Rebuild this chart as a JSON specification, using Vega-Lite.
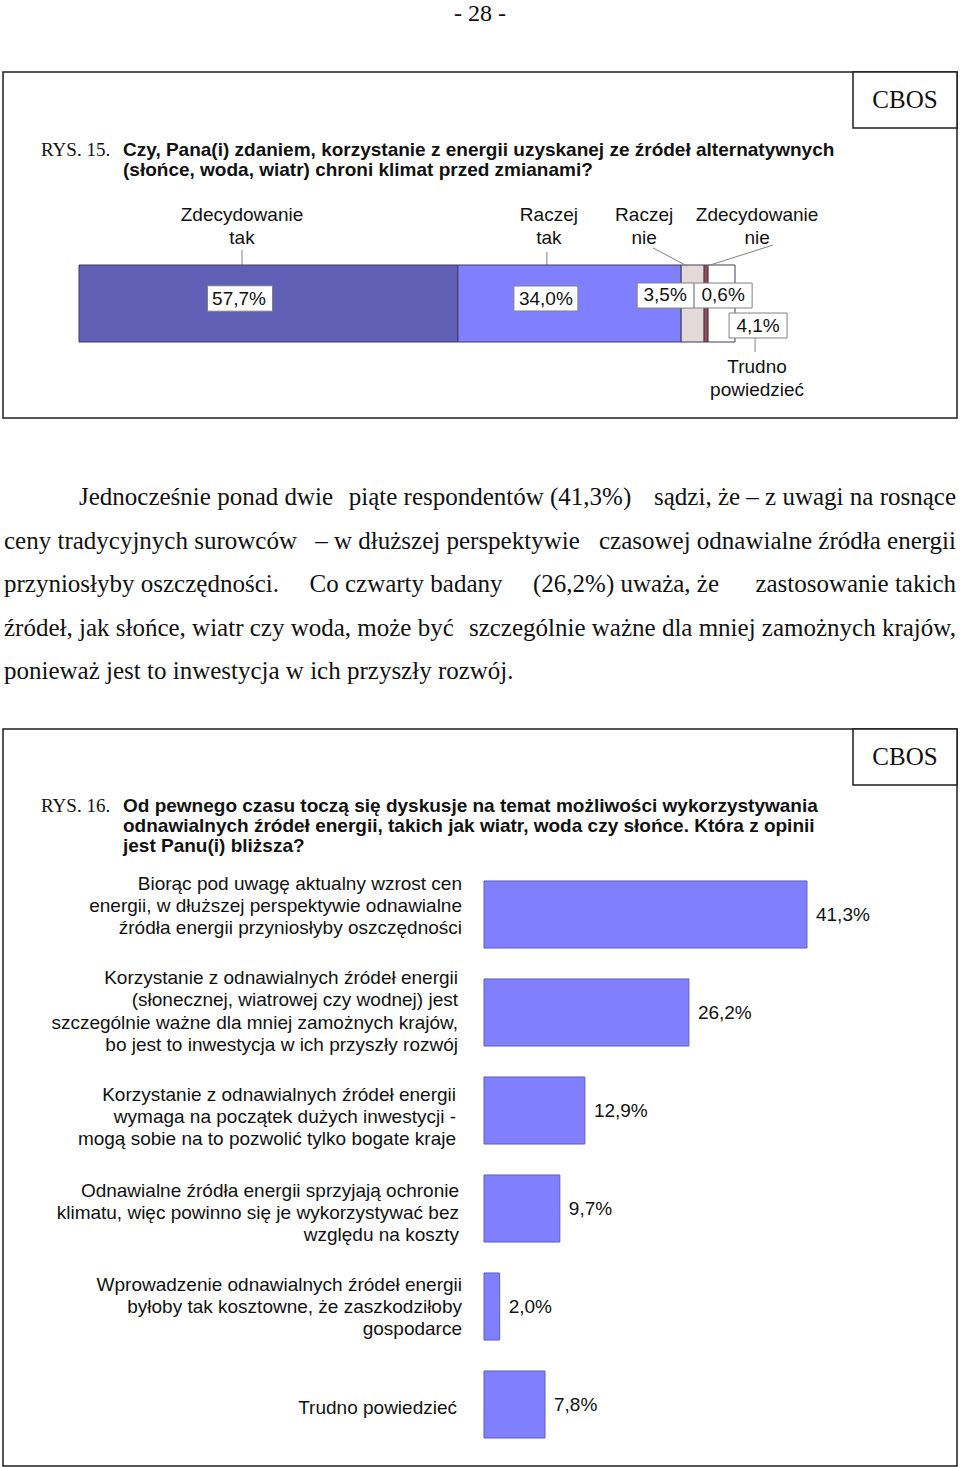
{
  "$schema": "https://vega.github.io/schema/vega-lite/v6.json",
  "width": 960,
  "height": 1468,
  "padding": 0,
  "autosize": {"type": "none"},
  "background": "#ffffff",
  "config": {
    "view": {"stroke": null},
    "axis": {"disable": true},
    "legend": {"disable": true},
    "text": {"font": "Liberation Sans", "fontSize": 19, "baseline": "middle", "color": "#111111"}
  },
  "resolve": {"scale": {"x": "independent", "y": "independent", "color": "independent"}},
  "layer": [
    {
      "data": {"values": [{"t": "- 28 -"}]},
      "mark": {"type": "text", "font": "Liberation Serif", "fontSize": 24},
      "encoding": {
        "text": {"field": "t"},
        "y": {"field": "t", "type": "nominal", "scale": {"type": "point", "range": [14, 14]}}
      }
    },
    {
      "data": {"values": [{"fig": "RYS. 15."}]},
      "mark": {"type": "rect", "fillOpacity": 0, "stroke": "#1e1e1e", "strokeWidth": 1.5},
      "encoding": {
        "x": {"field": "fig", "type": "nominal", "scale": {"type": "band", "range": [3, 957], "paddingInner": 0, "paddingOuter": 0}},
        "y": {"field": "fig", "type": "nominal", "scale": {"type": "band", "range": [72, 418], "paddingInner": 0, "paddingOuter": 0}}
      }
    },
    {
      "data": {"values": [{"src": "CBOS"}]},
      "encoding": {
        "x": {"field": "src", "type": "nominal", "scale": {"type": "band", "range": [853, 957], "paddingInner": 0, "paddingOuter": 0}},
        "y": {"field": "src", "type": "nominal", "scale": {"type": "band", "range": [72, 128], "paddingInner": 0, "paddingOuter": 0}}
      },
      "layer": [
        {"mark": {"type": "rect", "fill": "#ffffff", "stroke": "#1e1e1e", "strokeWidth": 1.5}},
        {"mark": {"type": "text", "font": "Liberation Serif", "fontSize": 25}, "encoding": {"text": {"field": "src"}}}
      ]
    },
    {
      "data": {"values": [{"line": 1, "text": "RYS. 15."}]},
      "mark": {"type": "text", "font": "Liberation Serif", "fontSize": 19, "align": "left"},
      "encoding": {
        "text": {"field": "text"},
        "x": {"field": "line", "type": "ordinal", "scale": {"type": "point", "range": [41, 41], "padding": 0}},
        "y": {"field": "line", "type": "ordinal", "scale": {"type": "point", "range": [150, 150], "padding": 0}}
      }
    },
    {
      "data": {"values": [
        {"line": 1, "text": "Czy, Pana(i) zdaniem, korzystanie z energii uzyskanej ze źródeł alternatywnych"},
        {"line": 2, "text": "(słońce, woda, wiatr) chroni klimat przed zmianami?"}
      ]},
      "mark": {"type": "text", "fontWeight": "bold", "fontSize": 19, "align": "left"},
      "encoding": {
        "text": {"field": "text"},
        "x": {"field": "line", "type": "ordinal", "scale": {"type": "point", "range": [123, 123], "padding": 0}},
        "y": {"field": "line", "type": "ordinal", "scale": {"type": "point", "range": [150, 170], "padding": 0}}
      }
    },
    {
      "data": {"values": [
        {"q": "RYS. 15.", "n": 1, "cat": "Zdecydowanie tak", "v": 57.7, "label": "57,7%"},
        {"q": "RYS. 15.", "n": 2, "cat": "Raczej tak", "v": 34.0, "label": "34,0%"},
        {"q": "RYS. 15.", "n": 3, "cat": "Raczej nie", "v": 3.5, "label": "3,5%"},
        {"q": "RYS. 15.", "n": 4, "cat": "Zdecydowanie nie", "v": 0.6, "label": "0,6%"},
        {"q": "RYS. 15.", "n": 5, "cat": "Trudno powiedzieć", "v": 4.1, "label": "4,1%"}
      ]},
      "transform": [
        {"stack": "v", "groupby": ["q"], "sort": [{"field": "n", "order": "ascending"}], "as": ["s0", "s1"]}
      ],
      "encoding": {
        "x": {"field": "s0", "type": "quantitative", "scale": {"domain": [0, 99.9], "range": [79, 735], "nice": false, "zero": false}},
        "y": {"field": "q", "type": "nominal", "scale": {"type": "band", "range": [265, 342], "paddingInner": 0, "paddingOuter": 0}}
      },
      "layer": [
        {
          "mark": {"type": "rect", "stroke": "#3c3c5c", "strokeWidth": 1},
          "encoding": {
            "x2": {"field": "s1"},
            "color": {"field": "cat", "type": "nominal", "scale": {
              "domain": ["Zdecydowanie tak", "Raczej tak", "Raczej nie", "Zdecydowanie nie", "Trudno powiedzieć"],
              "range": ["#5f5fb5", "#8080ff", "#e4dada", "#a04a4a", "#ffffff"]}}
          }
        },
        {
          "transform": [{"filter": "datum.n == 1"}],
          "layer": [
            {"mark": {"type": "rule", "stroke": "#808080", "strokeWidth": 1, "xOffset": 163, "x2Offset": 163, "yOffset": -53.5, "y2Offset": -38.5},
             "encoding": {"x2": {"field": "s0"}, "y2": {"field": "q"}}},
            {"mark": {"type": "point", "shape": "M-1,-0.39H1V0.39H-1Z", "size": 4225, "filled": true, "fill": "#ffffff", "stroke": "#808080", "strokeWidth": 1, "opacity": 1, "xOffset": 161, "yOffset": -5}},
            {"mark": {"type": "text", "dx": 160, "dy": -5}, "encoding": {"text": {"field": "label"}}},
            {"mark": {"type": "text", "dx": 163, "dy": -88.5, "lineBreak": " ", "lineHeight": 23}, "encoding": {"text": {"field": "cat"}}}
          ]
        },
        {
          "transform": [{"filter": "datum.n == 2"}],
          "layer": [
            {"mark": {"type": "rule", "stroke": "#808080", "strokeWidth": 1, "xOffset": 89, "x2Offset": 89, "yOffset": -51.5, "y2Offset": -38.5},
             "encoding": {"x2": {"field": "s0"}, "y2": {"field": "q"}}},
            {"mark": {"type": "point", "shape": "M-1,-0.39H1V0.39H-1Z", "size": 4096, "filled": true, "fill": "#ffffff", "stroke": "#808080", "strokeWidth": 1, "opacity": 1, "xOffset": 88, "yOffset": -5}},
            {"mark": {"type": "text", "dx": 88, "dy": -5}, "encoding": {"text": {"field": "label"}}},
            {"mark": {"type": "text", "dx": 91, "dy": -88.5, "lineBreak": " ", "lineHeight": 23}, "encoding": {"text": {"field": "cat"}}}
          ]
        },
        {
          "transform": [{"filter": "datum.n == 3"}],
          "layer": [
            {"mark": {"type": "rule", "stroke": "#808080", "strokeWidth": 1, "xOffset": -28, "x2Offset": 6, "yOffset": -55.5, "y2Offset": -37.5},
             "encoding": {"x2": {"field": "s0"}, "y2": {"field": "q"}}},
            {"mark": {"type": "point", "shape": "M-1,-0.44H1V0.44H-1Z", "size": 3249, "filled": true, "fill": "#ffffff", "stroke": "#808080", "strokeWidth": 1, "opacity": 1, "xOffset": -15.5, "yOffset": -8}},
            {"mark": {"type": "text", "dx": -16, "dy": -8.5}, "encoding": {"text": {"field": "label"}}},
            {"mark": {"type": "text", "dx": -37, "dy": -88.5, "lineBreak": " ", "lineHeight": 23}, "encoding": {"text": {"field": "cat"}}}
          ]
        },
        {
          "transform": [{"filter": "datum.n == 4"}],
          "layer": [
            {"mark": {"type": "rule", "stroke": "#808080", "strokeWidth": 1, "xOffset": 69, "x2Offset": 3, "yOffset": -58.5, "y2Offset": -37.5},
             "encoding": {"x2": {"field": "s0"}, "y2": {"field": "q"}}},
            {"mark": {"type": "point", "shape": "M-1,-0.43H1V0.43H-1Z", "size": 3364, "filled": true, "fill": "#ffffff", "stroke": "#808080", "strokeWidth": 1, "opacity": 1, "xOffset": 19, "yOffset": -8}},
            {"mark": {"type": "text", "dx": 19, "dy": -8.5}, "encoding": {"text": {"field": "label"}}},
            {"mark": {"type": "text", "dx": 53, "dy": -88.5, "lineBreak": " ", "lineHeight": 23}, "encoding": {"text": {"field": "cat"}}}
          ]
        },
        {
          "transform": [{"filter": "datum.n == 5"}],
          "layer": [
            {"mark": {"type": "rule", "stroke": "#808080", "strokeWidth": 1, "xOffset": 47, "x2Offset": 47, "yOffset": 34.5, "y2Offset": 48.5},
             "encoding": {"x2": {"field": "s0"}, "y2": {"field": "q"}}},
            {"mark": {"type": "point", "shape": "M-1,-0.43H1V0.43H-1Z", "size": 3364, "filled": true, "fill": "#ffffff", "stroke": "#808080", "strokeWidth": 1, "opacity": 1, "xOffset": 50, "yOffset": 22}},
            {"mark": {"type": "text", "dx": 50, "dy": 22}, "encoding": {"text": {"field": "label"}}},
            {"mark": {"type": "text", "dx": 49, "dy": 63.5, "lineBreak": " ", "lineHeight": 23}, "encoding": {"text": {"field": "cat"}}}
          ]
        }
      ]
    },
    {
      "data": {"values": [
        {"line": 1, "part": "I", "text": "Jednocześnie ponad dwie"},
        {"line": 1, "part": "C1", "text": "piąte respondentów (41,3%)"},
        {"line": 1, "part": "R", "text": "sądzi, że – z uwagi na rosnące"},
        {"line": 2, "part": "L", "text": "ceny tradycyjnych surowców"},
        {"line": 2, "part": "C2", "text": "– w dłuższej perspektywie"},
        {"line": 2, "part": "R", "text": "czasowej odnawialne źródła energii"},
        {"line": 3, "part": "L", "text": "przyniosłyby oszczędności."},
        {"line": 3, "part": "C3", "text": "Co czwarty badany"},
        {"line": 3, "part": "C4", "text": "(26,2%) uważa, że"},
        {"line": 3, "part": "R", "text": "zastosowanie takich"},
        {"line": 4, "part": "L", "text": "źródeł, jak słońce, wiatr czy woda, może być"},
        {"line": 4, "part": "R", "text": "szczególnie ważne dla mniej zamożnych krajów,"},
        {"line": 5, "part": "L", "text": "ponieważ jest to inwestycja w ich przyszły rozwój."}
      ]},
      "encoding": {
        "y": {"field": "line", "type": "ordinal", "scale": {"type": "point", "range": [497, 671], "padding": 0}},
        "text": {"field": "text"}
      },
      "layer": [
        {
          "transform": [{"filter": "datum.part == 'I'"}],
          "mark": {"type": "text", "font": "Liberation Serif", "fontSize": 25, "align": "left"},
          "encoding": {"x": {"field": "part", "type": "nominal", "scale": {"type": "point", "range": [79, 79], "padding": 0}}}
        },
        {
          "transform": [{"filter": "datum.part == 'L'"}],
          "mark": {"type": "text", "font": "Liberation Serif", "fontSize": 25, "align": "left"},
          "encoding": {"x": {"field": "part", "type": "nominal", "scale": {"type": "point", "range": [4, 4], "padding": 0}}}
        },
        {
          "transform": [{"filter": "datum.part == 'C1'"}],
          "mark": {"type": "text", "font": "Liberation Serif", "fontSize": 25, "align": "center"},
          "encoding": {"x": {"field": "part", "type": "nominal", "scale": {"type": "point", "range": [490, 490], "padding": 0}}}
        },
        {
          "transform": [{"filter": "datum.part == 'C2'"}],
          "mark": {"type": "text", "font": "Liberation Serif", "fontSize": 25, "align": "center"},
          "encoding": {"x": {"field": "part", "type": "nominal", "scale": {"type": "point", "range": [447.5, 447.5], "padding": 0}}}
        },
        {
          "transform": [{"filter": "datum.part == 'C3'"}],
          "mark": {"type": "text", "font": "Liberation Serif", "fontSize": 25, "align": "center"},
          "encoding": {"x": {"field": "part", "type": "nominal", "scale": {"type": "point", "range": [406, 406], "padding": 0}}}
        },
        {
          "transform": [{"filter": "datum.part == 'C4'"}],
          "mark": {"type": "text", "font": "Liberation Serif", "fontSize": 25, "align": "center"},
          "encoding": {"x": {"field": "part", "type": "nominal", "scale": {"type": "point", "range": [626, 626], "padding": 0}}}
        },
        {
          "transform": [{"filter": "datum.part == 'R'"}],
          "mark": {"type": "text", "font": "Liberation Serif", "fontSize": 25, "align": "right"},
          "encoding": {"x": {"field": "part", "type": "nominal", "scale": {"type": "point", "range": [956, 956], "padding": 0}}}
        }
      ],
      "resolve": {"scale": {"x": "independent"}}
    },
    {
      "data": {"values": [{"fig": "RYS. 16."}]},
      "mark": {"type": "rect", "fillOpacity": 0, "stroke": "#1e1e1e", "strokeWidth": 1.5},
      "encoding": {
        "x": {"field": "fig", "type": "nominal", "scale": {"type": "band", "range": [3, 957], "paddingInner": 0, "paddingOuter": 0}},
        "y": {"field": "fig", "type": "nominal", "scale": {"type": "band", "range": [729, 1466], "paddingInner": 0, "paddingOuter": 0}}
      }
    },
    {
      "data": {"values": [{"src": "CBOS"}]},
      "encoding": {
        "x": {"field": "src", "type": "nominal", "scale": {"type": "band", "range": [853, 957], "paddingInner": 0, "paddingOuter": 0}},
        "y": {"field": "src", "type": "nominal", "scale": {"type": "band", "range": [729, 785], "paddingInner": 0, "paddingOuter": 0}}
      },
      "layer": [
        {"mark": {"type": "rect", "fill": "#ffffff", "stroke": "#1e1e1e", "strokeWidth": 1.5}},
        {"mark": {"type": "text", "font": "Liberation Serif", "fontSize": 25}, "encoding": {"text": {"field": "src"}}}
      ]
    },
    {
      "data": {"values": [{"line": 1, "text": "RYS. 16."}]},
      "mark": {"type": "text", "font": "Liberation Serif", "fontSize": 19, "align": "left"},
      "encoding": {
        "text": {"field": "text"},
        "x": {"field": "line", "type": "ordinal", "scale": {"type": "point", "range": [41, 41], "padding": 0}},
        "y": {"field": "line", "type": "ordinal", "scale": {"type": "point", "range": [806, 806], "padding": 0}}
      }
    },
    {
      "data": {"values": [
        {"line": 1, "text": "Od pewnego czasu toczą się dyskusje na temat możliwości wykorzystywania"},
        {"line": 2, "text": "odnawialnych źródeł energii, takich jak wiatr, woda czy słońce. Która z opinii"},
        {"line": 3, "text": "jest Panu(i) bliższa?"}
      ]},
      "mark": {"type": "text", "fontWeight": "bold", "fontSize": 19, "align": "left"},
      "encoding": {
        "text": {"field": "text"},
        "x": {"field": "line", "type": "ordinal", "scale": {"type": "point", "range": [123, 123], "padding": 0}},
        "y": {"field": "line", "type": "ordinal", "scale": {"type": "point", "range": [806, 846], "padding": 0}}
      }
    },
    {
      "data": {"values": [
        {"n": 1, "opinion": "Biorąc pod uwagę aktualny wzrost cen\nenergii, w dłuższej perspektywie odnawialne\nźródła energii przyniosłyby oszczędności", "v": 41.3, "txt": "41,3%"},
        {"n": 2, "opinion": "Korzystanie z odnawialnych źródeł energii\n(słonecznej, wiatrowej czy wodnej) jest\nszczególnie ważne dla mniej zamożnych krajów,\nbo jest to inwestycja w ich przyszły rozwój", "v": 26.2, "txt": "26,2%"},
        {"n": 3, "opinion": "Korzystanie z odnawialnych źródeł energii\nwymaga na początek dużych inwestycji -\nmogą sobie na to pozwolić tylko bogate kraje", "v": 12.9, "txt": "12,9%"},
        {"n": 4, "opinion": "Odnawialne źródła energii sprzyjają ochronie\nklimatu, więc powinno się je wykorzystywać bez\nwzględu na koszty", "v": 9.7, "txt": "9,7%"},
        {"n": 5, "opinion": "Wprowadzenie odnawialnych źródeł energii\nbyłoby tak kosztowne, że zaszkodziłoby\ngospodarce", "v": 2.0, "txt": "2,0%"},
        {"n": 6, "opinion": "Trudno powiedzieć", "v": 7.8, "txt": "7,8%"}
      ]},
      "encoding": {
        "y": {"field": "n", "type": "ordinal", "scale": {"type": "band", "range": [865.5, 1453.5], "paddingInner": 0.316, "paddingOuter": 0.158}},
        "x": {"field": "v", "type": "quantitative", "scale": {"domain": [0, 50], "range": [484, 875], "nice": false, "zero": true}}
      },
      "layer": [
        {"mark": {"type": "bar", "fill": "#8080ff", "stroke": "#5c5cc4", "strokeWidth": 1}},
        {"mark": {"type": "text", "align": "left", "dx": 9}, "encoding": {"text": {"field": "txt"}}},
        {"transform": [{"filter": "datum.n == 1"}],
         "mark": {"type": "text", "align": "right", "dx": -22, "dy": -30.5, "lineBreak": "\n", "lineHeight": 22},
         "encoding": {"x": {"datum": 0, "type": "quantitative"}, "text": {"field": "opinion"}}},
        {"transform": [{"filter": "datum.n == 2"}],
         "mark": {"type": "text", "align": "right", "dx": -26, "dy": -34.5, "lineBreak": "\n", "lineHeight": 22.3},
         "encoding": {"x": {"datum": 0, "type": "quantitative"}, "text": {"field": "opinion"}}},
        {"transform": [{"filter": "datum.n == 3"}],
         "mark": {"type": "text", "align": "right", "dx": -28, "dy": -15.5, "lineBreak": "\n", "lineHeight": 22},
         "encoding": {"x": {"datum": 0, "type": "quantitative"}, "text": {"field": "opinion"}}},
        {"transform": [{"filter": "datum.n == 4"}],
         "mark": {"type": "text", "align": "right", "dx": -25, "dy": -17.5, "lineBreak": "\n", "lineHeight": 22},
         "encoding": {"x": {"datum": 0, "type": "quantitative"}, "text": {"field": "opinion"}}},
        {"transform": [{"filter": "datum.n == 5"}],
         "mark": {"type": "text", "align": "right", "dx": -22, "dy": -22, "lineBreak": "\n", "lineHeight": 22},
         "encoding": {"x": {"datum": 0, "type": "quantitative"}, "text": {"field": "opinion"}}},
        {"transform": [{"filter": "datum.n == 6"}],
         "mark": {"type": "text", "align": "right", "dx": -27, "dy": 3.5, "lineBreak": "\n", "lineHeight": 22},
         "encoding": {"x": {"datum": 0, "type": "quantitative"}, "text": {"field": "opinion"}}}
      ]
    }
  ]
}
